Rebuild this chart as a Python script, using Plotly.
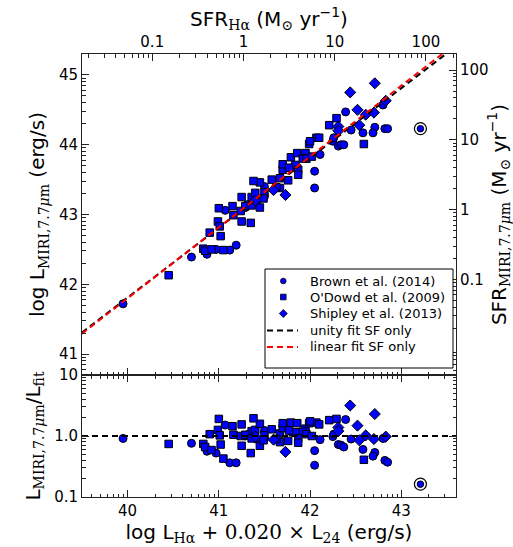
import numpy as np
import plotly.graph_objects as go

# ---------------- data ----------------
brown_x = [39.95, 40.70, 40.87, 40.97, 41.12, 41.19, 41.07, 41.29, 41.41, 41.50,
           41.50, 41.80, 42.11, 42.05, 42.05, 42.25, 42.26, 42.31, 42.34, 42.37,
           42.39, 42.45, 42.58, 42.71, 42.69, 42.80, 42.82, 42.85, 41.31]
brown_y = [41.72, 42.39, 42.43, 42.50, 42.49, 42.56, 43.06, 43.10, 43.17, 43.40,
           43.26, 43.67, 43.86, 43.62, 43.38, 44.05, 44.10, 43.98, 44.00, 44.00,
           44.47, 44.21, 44.17, 44.25, 44.17, 44.57, 44.23, 44.23, 43.14]

odowd_x = [40.45, 40.83, 40.85, 40.92, 41.05, 40.90, 40.99, 41.01, 41.02, 41.00,
           41.15, 41.16, 41.25, 41.35, 41.25, 41.24, 41.36, 41.40, 41.45, 41.38,
           41.45, 41.50, 41.58, 41.67, 41.67, 41.70, 41.70, 41.76, 41.79, 41.86,
           41.95, 41.92, 41.96, 42.02, 41.84, 41.87, 41.87, 42.07, 42.10, 41.99,
           42.00, 42.21, 42.29, 42.59, 41.29, 41.36, 41.49, 41.63, 41.77]
odowd_y = [42.13, 42.51, 42.48, 42.50, 42.49, 42.74, 42.90, 42.83, 42.69, 43.09,
           43.12, 42.99, 42.90, 42.88, 43.25, 43.05, 43.25, 43.31, 43.46, 43.48,
           43.10, 43.32, 43.50, 43.38, 43.52, 43.64, 43.72, 43.49, 43.82, 43.88,
           43.88, 43.80, 43.80, 43.83, 43.71, 43.64, 43.57, 44.10, 44.10, 44.01,
           44.05, 44.28, 44.38, 44.01, 43.12, 43.13, 43.23, 43.39, 43.67]

shipley_x = [42.71, 42.44, 42.52, 42.61, 42.70, 42.83, 42.31, 42.31, 42.54, 41.60,
             41.73, 41.40]
shipley_y = [44.88, 44.75, 44.50, 44.43, 44.46, 44.63, 44.26, 44.20, 44.28, 43.35,
             43.28, 43.20]

circled_x = [43.21]
circled_y = [44.23]

legend_labels = ["Brown et al. (2014)", "O'Dowd et al. (2009)", "Shipley et al. (2013)",
                 "unity fit SF only", "linear fit SF only"]

# fits
UNITY_OFFSET = 1.81            # log L_MIRI = log L + offset
LIN_SLOPE, LIN_X0, LIN_Y0 = 1.015, 42.0, 43.83

# conversions to SFR
SFR_HA_OFFSET = 41.27
SFR_MIRI_OFFSET = 43.07

X_RANGE = [39.5, 43.6]
Y_RANGE = [40.7, 45.3]
RATIO_RANGE = [-1, 1]

x_ticks = [40, 41, 42, 43]
y_ticks = [41, 42, 43, 44, 45]
sfr_ticks = [-1, 0, 1, 2]
sfr_labels = ["0.1", "1", "10", "100"]
ratio_ticks = [0.1, 1, 10]
ratio_labels = ["0.1", "1.0", "10"]

# ---------------- layout constants (pixels) ----------------
W, H = 513, 547
PL, PR, PT, PB = 82, 456, 54, 497


def px2paper(px, py):
    return (px - PL) / (PR - PL), (PB - py) / (PB - PT)


def ratio(xs, ys):
    xs = np.asarray(xs); ys = np.asarray(ys)
    return 10 ** (ys - (xs + UNITY_OFFSET))


def log_minor(lo, hi):
    out = []
    for n in range(int(np.floor(lo)) - 1, int(np.ceil(hi)) + 1):
        for k in range(2, 10):
            v = n + np.log10(k)
            if lo <= v <= hi:
                out.append(v)
    return out


FONT = "DejaVu Sans"
SERIF = "DejaVu Serif"
BLUE = "#0000FF"
AX = "#222222"
DASH = "6px,4px"

fig = go.Figure()

series = [
    ("Brown et al. (2014)", brown_x, brown_y, "circle", 8),
    ("O'Dowd et al. (2009)", odowd_x, odowd_y, "square", 7.5),
    ("Shipley et al. (2013)", shipley_x, shipley_y, "diamond", 8.5),
]
for name, xs, ys, sym, sz in series:
    mk = dict(symbol=sym, size=sz, color=BLUE, line=dict(color="black", width=1))
    fig.add_trace(go.Scatter(x=xs, y=ys, mode="markers", name=name, showlegend=False,
                             xaxis="x3", yaxis="y", marker=mk))
    fig.add_trace(go.Scatter(x=xs, y=ratio(xs, ys), mode="markers", showlegend=False,
                             xaxis="x", yaxis="y2", marker=mk))

# circled outlier
for ax, ay, yy in [("x3", "y", circled_y), ("x", "y2", ratio(circled_x, circled_y))]:
    fig.add_trace(go.Scatter(x=circled_x, y=yy, mode="markers", showlegend=False,
                             xaxis=ax, yaxis=ay,
                             marker=dict(symbol="circle", size=6.5, color=BLUE,
                                         line=dict(color="black", width=1))))
    fig.add_trace(go.Scatter(x=circled_x, y=yy, mode="markers", showlegend=False,
                             xaxis=ax, yaxis=ay,
                             marker=dict(symbol="circle-open", size=12,
                                         color="black", line=dict(width=1.2))))

# fit lines
xl = np.array(X_RANGE)
fig.add_trace(go.Scatter(x=xl, y=xl + UNITY_OFFSET, mode="lines", name="unity fit SF only",
                         showlegend=False, xaxis="x3", yaxis="y",
                         line=dict(color="black", width=2, dash=DASH)))
fig.add_trace(go.Scatter(x=xl, y=LIN_SLOPE * (xl - LIN_X0) + LIN_Y0, mode="lines",
                         name="linear fit SF only", showlegend=False, xaxis="x3", yaxis="y",
                         line=dict(color="red", width=2, dash=DASH)))
fig.add_trace(go.Scatter(x=xl, y=[1, 1], mode="lines", showlegend=False,
                         xaxis="x", yaxis="y2",
                         line=dict(color="black", width=2, dash=DASH)))
# invisible trace so the overlay (SFR) axes are drawn
fig.add_trace(go.Scatter(x=[X_RANGE[0] - SFR_HA_OFFSET], y=[Y_RANGE[0] - SFR_MIRI_OFFSET],
                         mode="markers", marker=dict(opacity=0), showlegend=False,
                         hoverinfo="skip", xaxis="x2", yaxis="y3"))

# ---------------- hand-drawn legend (matplotlib style) ----------------
shapes, annotations = [], []
bx0, by0 = px2paper(265, 269)
bx1, by1 = px2paper(453, 368)
shapes.append(dict(type="rect", xref="paper", yref="paper", x0=bx0, x1=bx1, y0=by1, y1=by0,
                   line=dict(color="black", width=1), fillcolor="white", layer="above"))
row_y = [281, 297, 313.5, 330.5, 347]
mx, r = 283.3, 2.8
# circle
cx0, cy0 = px2paper(mx - r, row_y[0] - r); cx1, cy1 = px2paper(mx + r, row_y[0] + r)
shapes.append(dict(type="circle", xref="paper", yref="paper", x0=cx0, x1=cx1, y0=cy1, y1=cy0,
                   fillcolor=BLUE, line=dict(color="black", width=0.8)))
# square
sx0, sy0 = px2paper(mx - r, row_y[1] - r); sx1, sy1 = px2paper(mx + r, row_y[1] + r)
shapes.append(dict(type="rect", xref="paper", yref="paper", x0=sx0, x1=sx1, y0=sy1, y1=sy0,
                   fillcolor=BLUE, line=dict(color="black", width=0.8)))
# diamond
d = 4.0
pts = [px2paper(mx, row_y[2] - d), px2paper(mx + d, row_y[2]),
       px2paper(mx, row_y[2] + d), px2paper(mx - d, row_y[2])]
path = "M " + " L ".join(f"{a:.5f},{b:.5f}" for a, b in pts) + " Z"
shapes.append(dict(type="path", xref="paper", yref="paper", path=path,
                   fillcolor=BLUE, line=dict(color="black", width=0.8)))
# dashed lines
for yy, col in [(row_y[3], "black"), (row_y[4], "red")]:
    lx0, ly = px2paper(267, yy); lx1, _ = px2paper(298, yy)
    shapes.append(dict(type="line", xref="paper", yref="paper", x0=lx0, x1=lx1, y0=ly, y1=ly,
                       line=dict(color=col, width=2, dash=DASH)))
for lab, yy in zip(legend_labels, row_y):
    ax_, ay_ = px2paper(308, yy)
    annotations.append(dict(xref="paper", yref="paper", x=ax_, y=ay_, text=lab,
                            showarrow=False, xanchor="left", yanchor="middle",
                            font=dict(family=FONT, size=13, color="black")))

# ---------------- axes ----------------
split = (PB - 375) / (PB - PT)
tickfont = dict(family=FONT, size=15, color="black")
titlefont = dict(family=FONT, size=20, color="black")
common = dict(showgrid=False, zeroline=False, showline=True, linecolor=AX, linewidth=1,
              ticks="inside", ticklen=7, tickwidth=1, tickcolor=AX, tickfont=tickfont,
              automargin=False)


def minor(vals):
    return dict(tickmode="array", tickvals=vals, ticks="inside", ticklen=3.5,
                tickwidth=1, tickcolor=AX, showgrid=False)


def sub(s):
    return f"<sub><span style='font-family:{SERIF}'>{s}</span></sub>"


fig.update_layout(
    width=W, height=H,
    margin=dict(l=PL, r=W - PR, t=PT, b=H - PB),
    paper_bgcolor="white", plot_bgcolor="white",
    font=dict(family=FONT, color="black"),
    showlegend=False,
    shapes=shapes, annotations=annotations,
    xaxis=dict(**common, domain=[0, 1], anchor="y2", range=X_RANGE, mirror="ticks",
               tickmode="array", tickvals=x_ticks,
               minor=minor(log_minor(*X_RANGE)),
               title=dict(text="log L" + sub("Hα") +
                          f" + <span style='font-family:{SERIF}'>0.020 ×</span> L" +
                          sub("24") + " (erg/s)", font=titlefont, standoff=0)),
    xaxis3=dict(**common, domain=[0, 1], anchor="y", range=X_RANGE, matches="x",
                showticklabels=False, tickmode="array", tickvals=x_ticks,
                minor=minor(log_minor(*X_RANGE))),
    xaxis2=dict(**common, overlaying="x3", side="top", anchor="y",
                range=[X_RANGE[0] - SFR_HA_OFFSET, X_RANGE[1] - SFR_HA_OFFSET],
                tickmode="array", tickvals=sfr_ticks, ticktext=sfr_labels,
                minor=minor(log_minor(X_RANGE[0] - SFR_HA_OFFSET, X_RANGE[1] - SFR_HA_OFFSET)),
                title=dict(text="SFR" + sub("Hα") + " (M" + sub("⊙") + " yr<sup>−1</sup>)",
                           font=titlefont, standoff=1)),
    yaxis=dict(**common, domain=[split, 1], anchor="x3", range=Y_RANGE,
               tickmode="array", tickvals=y_ticks,
               minor=minor(log_minor(*Y_RANGE)),
               title=dict(text="log L" + sub("MIRI,7.7<i>μ</i>m") + " (erg/s)",
                          font=titlefont, standoff=8)),
    yaxis3=dict(**common, overlaying="y", side="right", anchor="x3",
                range=[Y_RANGE[0] - SFR_MIRI_OFFSET, Y_RANGE[1] - SFR_MIRI_OFFSET],
                tickmode="array", tickvals=sfr_ticks, ticktext=sfr_labels,
                minor=minor(log_minor(Y_RANGE[0] - SFR_MIRI_OFFSET, Y_RANGE[1] - SFR_MIRI_OFFSET)),
                title=dict(text="SFR" + sub("MIRI,7.7<i>μ</i>m") + " (M" + sub("⊙") +
                           " yr<sup>−1</sup>)", font=titlefont, standoff=16)),
    yaxis2=dict(**common, domain=[0, split], anchor="x", type="log", range=RATIO_RANGE,
                mirror="ticks", tickmode="array", tickvals=ratio_ticks, ticktext=ratio_labels,
                minor=minor([k * 10.0 ** n for n in (-1, 0) for k in range(2, 10)]),
                title=dict(text="L" + sub("MIRI,7.7<i>μ</i>m") + "/L" + sub("fit"),
                           font=titlefont, standoff=8)),
)

fig.write_html("out.html",
               config={"displayModeBar": False, "staticPlot": True},
               post_script="document.body.style.margin='0px';"
                           "document.body.style.overflow='hidden';")
